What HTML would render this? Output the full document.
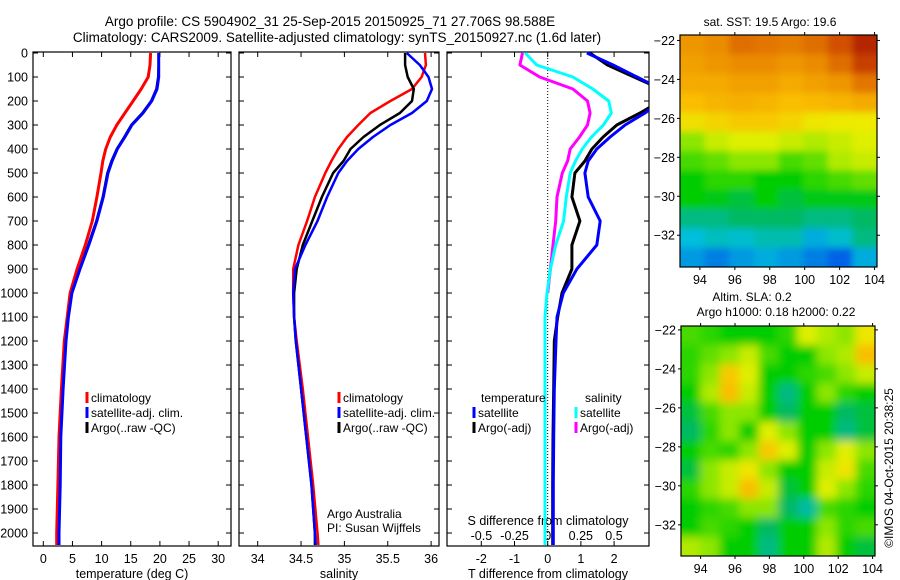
<!DOCTYPE html>
<html><head><meta charset="utf-8"><style>
html,body{margin:0;padding:0;background:#fff;}
svg{display:block;font-family:"Liberation Sans",Arial,sans-serif;}
</style></head><body>
<svg id="c" width="900" height="580" viewBox="0 0 900 580" xmlns="http://www.w3.org/2000/svg">
<defs>
<filter id="blurSST" x="-5%" y="-5%" width="110%" height="110%"><feGaussianBlur stdDeviation="3.5"/></filter>
<filter id="blurSLA" x="-5%" y="-5%" width="110%" height="110%"><feGaussianBlur stdDeviation="4.5"/></filter>
<clipPath id="cp1"><rect x="33" y="52" width="198" height="494"/></clipPath>
<clipPath id="cp2"><rect x="239" y="52" width="200" height="494"/></clipPath>
<clipPath id="cp3"><rect x="447" y="52" width="202" height="494"/></clipPath>
<clipPath id="cpm1"><rect x="680" y="35" width="197" height="232"/></clipPath>
<clipPath id="cpm2"><rect x="681" y="326" width="194" height="230"/></clipPath>
</defs>
<text x="330" y="26" font-size="13.5" text-anchor="middle">Argo profile: CS 5904902_31 25-Sep-2015 20150925_71 27.706S 98.588E</text>
<text x="337" y="42" font-size="13.5" text-anchor="middle">Climatology: CARS2009. Satellite-adjusted climatology: synTS_20150927.nc (1.6d later)</text>
<text x="770" y="26" font-size="12" text-anchor="middle">sat. SST: 19.5 Argo: 19.6</text>
<text x="752" y="301" font-size="12" text-anchor="middle">Altim. SLA: 0.2</text>
<text x="776" y="316" font-size="12" text-anchor="middle">Argo h1000: 0.18 h2000: 0.22</text>
<text transform="translate(893,468) rotate(-90)" font-size="12" text-anchor="middle">©IMOS 04-Oct-2015 20:38:25</text>
<g id="g"></g>
</svg>
<script>
// ---- data ----
const depths=[0,50,100,150,200,250,300,350,400,450,500,600,700,800,900,1000,1100,1200,1400,1600,1800,2000,2050];
const tempClim=[18.4,18.3,18.0,16.8,15.4,14.0,12.6,11.5,10.7,10.2,9.9,9.2,8.4,7.2,5.8,4.6,4.1,3.6,3.1,2.7,2.5,2.3,2.3];
const tempSat=[19.8,19.8,19.8,19.5,18.6,17.1,15.2,14.0,12.7,11.8,11.1,10.3,9.2,7.8,6.3,4.9,4.3,3.9,3.4,3.0,2.9,2.7,2.7];
const tempArgo=[19.8,19.8,19.7,19.4,18.5,17.0,15.1,13.9,12.6,11.7,11.0,10.2,9.1,7.7,6.2,4.85,4.25,3.85,3.35,2.95,2.85,2.65,2.65];
const salClim=[35.93,35.94,35.89,35.78,35.53,35.30,35.16,35.03,34.93,34.85,34.78,34.66,34.57,34.47,34.41,34.41,34.42,34.45,34.52,34.58,34.64,34.69,34.70];
const salSat=[35.72,35.87,35.97,36.01,35.95,35.78,35.53,35.33,35.16,35.03,34.93,34.80,34.69,34.55,34.43,34.41,34.42,34.44,34.50,34.56,34.62,34.66,34.67];
const salArgo=[35.70,35.70,35.73,35.80,35.78,35.64,35.41,35.22,35.07,34.99,34.87,34.74,34.63,34.52,34.45,34.42,34.42,34.44,34.50,34.56,34.62,34.66,34.66];
const dTSat=[1.18,1.97,2.69,3.4,3.4,2.93,2.33,1.88,1.48,1.22,1.12,1.22,1.58,1.48,0.88,0.47,0.28,0.25,0.2,0.18,0.17,0.17,0.17];
const dTArgo=[1.27,1.8,2.6,3.4,3.4,2.78,2.08,1.67,1.33,1.12,0.82,0.73,0.97,0.73,0.73,0.43,0.3,0.2,0.18,0.16,0.15,0.15,0.15];
const dSSat=[-0.17,-0.083,0.19,0.34,0.46,0.48,0.42,0.33,0.26,0.21,0.17,0.14,0.12,0.06,0.02,-0.005,-0.02,-0.02,-0.02,-0.02,-0.02,-0.02,-0.02];
const dSArgo=[-0.19,-0.21,-0.06,0.19,0.30,0.32,0.30,0.24,0.17,0.15,0.11,0.07,0.06,0.04,0.02,0,null,null,null,null,null,null,null];
const depthTicks=[0,100,200,300,400,500,600,700,800,900,1000,1100,1200,1300,1400,1500,1600,1700,1800,1900,2000];
const tempTicks=[0,5,10,15,20,25,30];
const salTicks=[34,34.5,35,35.5,36];
const dTTicks=[-2,-1,0,1,2];
const dSTicks=[-0.5,-0.25,0,0.25,0.5];
const dSTickLabels=["-0.5","-0.25","0","0.25","0.5"];
const lonTicks=[94,96,98,100,102,104];
const latTicks=[-22,-24,-26,-28,-30,-32];
const sstGrid=[
[.80,.82,.86,.85,.84,.86,.90,.95],
[.78,.80,.82,.82,.80,.82,.86,.92],
[.76,.76,.78,.78,.76,.78,.80,.85],
[.72,.74,.75,.74,.72,.73,.74,.76],
[.66,.68,.70,.70,.68,.65,.64,.64],
[.55,.60,.62,.62,.60,.58,.60,.62],
[.50,.52,.55,.55,.50,.52,.58,.60],
[.45,.48,.48,.45,.45,.48,.50,.52],
[.45,.44,.42,.45,.42,.44,.44,.44],
[.38,.38,.40,.40,.40,.38,.38,.40],
[.32,.34,.33,.35,.35,.30,.33,.38],
[.28,.25,.28,.30,.28,.25,.22,.30]];
const slaGrid=[
[.50,.48,.45,.45,.45,.48,.62,.58,.55,.65],
[.48,.52,.55,.60,.50,.45,.45,.55,.58,.72],
[.48,.55,.70,.62,.45,.45,.48,.50,.55,.60],
[.45,.58,.72,.60,.45,.38,.45,.55,.48,.45],
[.42,.50,.55,.55,.45,.40,.45,.45,.40,.42],
[.40,.48,.55,.45,.62,.55,.45,.45,.38,.42],
[.45,.50,.48,.55,.70,.62,.45,.55,.62,.55],
[.42,.55,.60,.65,.55,.45,.45,.60,.65,.50],
[.48,.55,.60,.72,.60,.42,.45,.62,.55,.48],
[.45,.48,.50,.55,.55,.40,.36,.50,.48,.45],
[.45,.50,.48,.45,.40,.45,.45,.55,.48,.50],
[.58,.55,.45,.45,.38,.45,.45,.58,.45,.42]];

const NS='http://www.w3.org/2000/svg';
const G=document.getElementById('g');
function mk(tag,attrs,parent){const e=document.createElementNS(NS,tag);for(const k in attrs)e.setAttribute(k,attrs[k]);(parent||G).appendChild(e);return e;}
const yD=d=>53+0.24*d;
const xT=t=>43.3+5.83*t;
const xS=s=>257.7+86.7*(s-34);
const xdT=t=>547.7+33.2*t;
const xdS=s=>547.7+132.6*s;
const PB=546, PT=52;
const FS=12.5;

function frame(x0,x1,name){
  const r=mk('rect',{x:x0,y:PT,width:x1-x0,height:PB-PT,fill:'none',stroke:'#000','stroke-width':1.2});
  
  
  depthTicks.forEach(d=>{
    mk('line',{x1:x0,x2:x0+5,y1:yD(d),y2:yD(d),stroke:'#000'});
    mk('line',{x1:x1-5,x2:x1,y1:yD(d),y2:yD(d),stroke:'#000'});
  });
}
function series(vals,xf,color,w,clip,name){
  let p='';let pen=false;
  depths.forEach((d,i)=>{const v=vals[i];if(v===null||v===undefined){pen=false;return;}
    p+=(pen?'L':'M')+xf(v).toFixed(1)+' '+yD(d).toFixed(1)+' ';pen=true;});
  const e=mk('path',{d:p,fill:'none',stroke:color,'stroke-width':w,'stroke-linejoin':'round','clip-path':'url(#'+clip+')'});
  
  
}
function xticks(ticks,xf,labels,y){
  ticks.forEach((t,i)=>{const x=xf(t);
    mk('line',{x1:x,x2:x,y1:PB,y2:PB-5,stroke:'#000'});
    mk('line',{x1:x,x2:x,y1:PT,y2:PT+5,stroke:'#000'});
    const tx=mk('text',{x:x,y:y,'font-size':FS,'text-anchor':'middle'});tx.textContent=labels?labels[i]:String(t);
    
    
  });
}
function label(x,y,txt,name,size,anchor){
  const t=mk('text',{x:x,y:y,'font-size':size||FS,'text-anchor':anchor||'middle'});t.textContent=txt;
  
  
}
function legend(x,y,color,txt,name){
  mk('line',{x1:x,x2:x,y1:y-10,y2:y+1,stroke:color,'stroke-width':3});
  label(x+4,y,txt,name,12,'start');
}

// Panel 1 temperature
frame(33,231,'temperature-panel');
depthTicks.forEach(d=>{label(28,yD(d)+4.5,String(d),'depth-tick-label',FS,'end');});
xticks(tempTicks,xT,null,563);
label(132,578,'temperature (deg C)','x-axis-title-temperature');
series(tempArgo,xT,'#000',2.5,'cp1','temp-argo-line');
series(tempClim,xT,'#f00',3,'cp1','temp-climatology-line');
series(tempSat,xT,'#00f',3,'cp1','temp-satellite-line');
legend(87,402,'#f00','climatology','legend-climatology');
legend(87,417,'#00f','satellite-adj. clim.','legend-satellite');
legend(87,432,'#000','Argo(..raw -QC)','legend-argo');

// Panel 2 salinity
frame(239,439,'salinity-panel');
xticks(salTicks,xS,["34","34.5","35","35.5","36"],563);
label(339,578,'salinity','x-axis-title-salinity');
series(salClim,xS,'#f00',2.5,'cp2','sal-climatology-line');
series(salArgo,xS,'#000',2.5,'cp2','sal-argo-line');
series(salSat,xS,'#00f',2.5,'cp2','sal-satellite-line');
legend(339,402,'#f00','climatology','legend-climatology-2');
legend(339,417,'#00f','satellite-adj. clim.','legend-satellite-2');
legend(339,432,'#000','Argo(..raw -QC)','legend-argo-2');
label(327,518,'Argo Australia','credit-line-1',12,'start');
label(327,532,'PI: Susan Wijffels','credit-line-2',12,'start');

// Panel 3 differences
frame(447,649,'difference-panel');
mk('line',{x1:xdT(0),x2:xdT(0),y1:PT,y2:PB,stroke:'#000','stroke-dasharray':'1,2','stroke-width':1});
xticks(dTTicks,xdT,null,563);
label(548,578,'T difference from climatology','x-axis-title-t-diff');
label(548,525,'S difference from climatology','s-axis-title');
dSTicks.forEach((t,i)=>label(xdS(t),540,dSTickLabels[i],'s-tick-label'));
series(dSArgo,xdS,'#f0f',3,'cp3','dS-argo-line');
series(dSSat,xdS,'#0ff',3,'cp3','dS-satellite-line');
series(dTArgo,xdT,'#000',3,'cp3','dT-argo-line');
series(dTSat,xdT,'#00f',3,'cp3','dT-satellite-line');
label(481,402,'temperature','legend-temperature-header',12,'start');
label(585,402,'salinity','legend-salinity-header',12,'start');
legend(474,417,'#00f','satellite','legend-t-satellite');
legend(474,432,'#000','Argo(-adj)','legend-t-argo');
legend(576,417,'#0ff','satellite','legend-s-satellite');
legend(576,432,'#f0f','Argo(-adj)','legend-s-argo');

const cmap=[[0.15,[0,40,200]],[0.22,[0,100,230]],[0.32,[0,190,220]],[0.40,[0,185,100]],[0.45,[0,205,0]],[0.55,[140,230,0]],[0.63,[235,240,0]],[0.72,[250,190,0]],[0.82,[235,140,0]],[0.9,[210,80,0]],[0.97,[170,20,0]]];
function col(v){
  if(v<=cmap[0][0])return 'rgb('+cmap[0][1]+')';
  for(let i=1;i<cmap.length;i++){if(v<=cmap[i][0]){const a=cmap[i-1],b=cmap[i];const f=(v-a[0])/(b[0]-a[0]);
    return 'rgb('+a[1].map((c,k)=>Math.round(c+(b[1][k]-c)*f)).join(',')+')';}}
  return 'rgb('+cmap[cmap.length-1][1]+')';
}
function map(grid,x0,x1,y0,y1,latTop,clip,filt,name,lon0,lon1,latBot){
  const xL=lon=>x0+(lon-lon0)/(lon1-lon0)*(x1-x0);
  const yL=lat=>y0+(latTop-lat)/(latTop-latBot)*(y1-y0);
  const outer=mk('g',{'clip-path':'url(#'+clip+')'});
  
  
  const g=mk('g',{filter:'url(#'+filt+')'},outer);
  const R=grid.length,C=grid[0].length,cw=(x1-x0)/C,ch=(y1-y0)/R;
  for(let r=-1;r<=R;r++)for(let c=-1;c<=C;c++){
    const v=grid[Math.min(R-1,Math.max(0,r))][Math.min(C-1,Math.max(0,c))];
    const cell=mk('rect',{x:(x0+c*cw).toFixed(2),y:(y0+r*ch).toFixed(2),width:(cw+0.6).toFixed(2),height:(ch+0.6).toFixed(2),fill:col(v)},g);
    
    
  }
  mk('rect',{x:x0,y:y0,width:x1-x0,height:y1-y0,fill:'none',stroke:'#000','stroke-width':1.2});
  lonTicks.forEach(l=>{const x=xL(l);mk('line',{x1:x,x2:x,y1:y1,y2:y1+3,stroke:'#000'});mk('line',{x1:x,x2:x,y1:y0,y2:y0-3,stroke:'#000'});
    label(x,y1+17,String(l),'lon-tick-label');});
  latTicks.forEach(l=>{const y=yL(l);mk('line',{x1:x0-3,x2:x0,y1:y,y2:y,stroke:'#000'});mk('line',{x1:x1,x2:x1+3,y1:y,y2:y,stroke:'#000'});
    label(x0-5,y+4.5,'\u2212'+String(-l),'lat-tick-label',FS,'end');});
}
map(sstGrid,680,877,35,267,-21.72,'cpm1','blurSST','sst-map',92.86,104.14,-33.63);
map(slaGrid,681,875,326,556,-21.8,'cpm2','blurSLA','sla-map',92.86,104.14,-33.6);
</script>
</body></html>
